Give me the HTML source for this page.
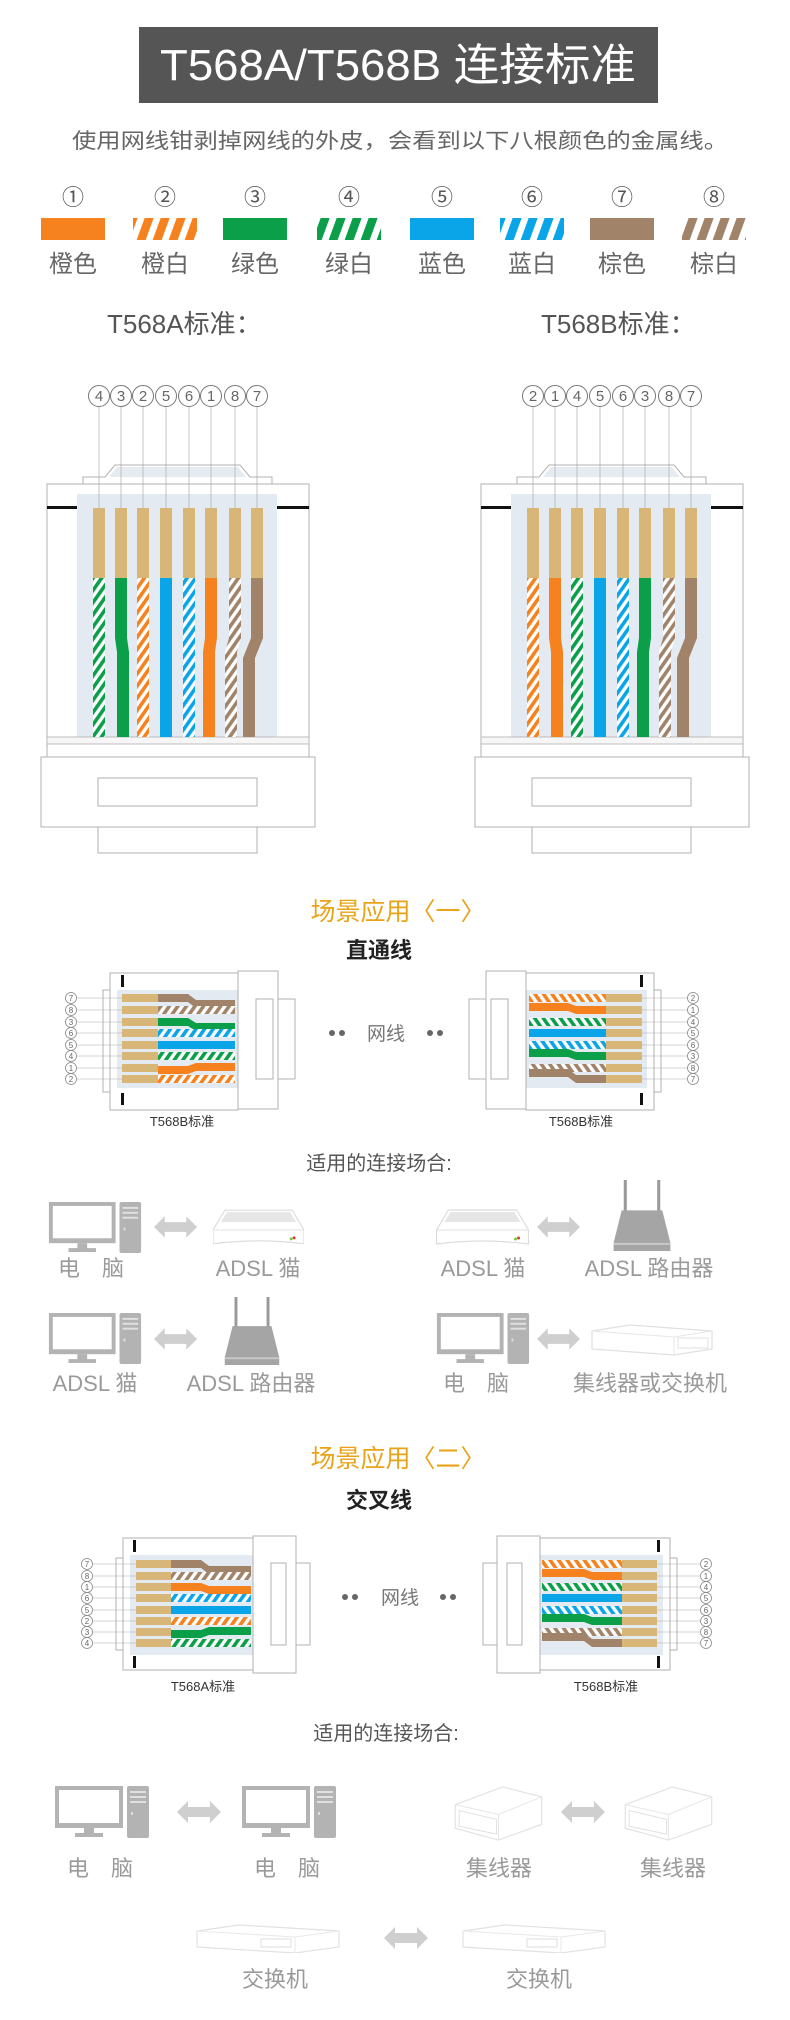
<!DOCTYPE html>
<html><head><meta charset="utf-8"><style>
html,body{margin:0;padding:0;background:#fff;}
svg{display:block;}
text{font-family:"Liberation Sans","Noto Sans CJK SC",sans-serif;}
</style></head><body>
<svg width="790" height="2020" viewBox="0 0 790 2020" xmlns="http://www.w3.org/2000/svg">
<defs>
<pattern id="pO" width="7" height="7" patternUnits="userSpaceOnUse" patternTransform="rotate(35)"><rect width="7" height="7" fill="#fff"/><rect width="3.6" height="7" fill="#f5821f"/></pattern>
<pattern id="pG" width="7" height="7" patternUnits="userSpaceOnUse" patternTransform="rotate(35)"><rect width="7" height="7" fill="#fff"/><rect width="3.6" height="7" fill="#0a9f48"/></pattern>
<pattern id="pB" width="7" height="7" patternUnits="userSpaceOnUse" patternTransform="rotate(35)"><rect width="7" height="7" fill="#fff"/><rect width="3.6" height="7" fill="#0aa5e8"/></pattern>
<pattern id="pN" width="7" height="7" patternUnits="userSpaceOnUse" patternTransform="rotate(35)"><rect width="7" height="7" fill="#fff"/><rect width="3.6" height="7" fill="#a1836a"/></pattern>
<pattern id="sO" width="16" height="22" patternUnits="userSpaceOnUse" patternTransform="skewX(-20)"><rect width="16" height="22" fill="#fff"/><rect width="9" height="22" fill="#f5821f"/></pattern>
<pattern id="sG" width="16" height="22" patternUnits="userSpaceOnUse" patternTransform="skewX(-20)"><rect width="16" height="22" fill="#fff"/><rect width="9" height="22" fill="#0a9f48"/></pattern>
<pattern id="sB" width="16" height="22" patternUnits="userSpaceOnUse" patternTransform="skewX(-20)"><rect width="16" height="22" fill="#fff"/><rect width="9" height="22" fill="#0aa5e8"/></pattern>
<pattern id="sN" width="16" height="22" patternUnits="userSpaceOnUse" patternTransform="skewX(-20)"><rect width="16" height="22" fill="#fff"/><rect width="9" height="22" fill="#a1836a"/></pattern>

<symbol id="pc" viewBox="0 0 94 52">
<rect x="0" y="0" width="68" height="42" fill="#b3b3b3"/><rect x="4" y="4" width="60" height="33" fill="#fff"/>
<rect x="29" y="42" width="10" height="6" fill="#b3b3b3"/><rect x="20" y="47" width="28" height="4" fill="#b3b3b3"/>
<rect x="72" y="0" width="22" height="52" rx="2" fill="#b3b3b3"/><rect x="75" y="5" width="16" height="2" fill="#e0e0e0"/><rect x="75" y="10" width="16" height="2" fill="#e0e0e0"/><rect x="75" y="15" width="16" height="2" fill="#e0e0e0"/><rect x="76" y="26" width="2" height="3" fill="#ddd"/>
</symbol>
<symbol id="arr" viewBox="0 0 44 22">
<polygon points="0,11 11,0 11,6 33,6 33,0 44,11 33,22 33,16 11,16 11,22" fill="#cfcfcf"/>
</symbol>
<symbol id="modem" viewBox="0 0 92 40">
<path d="M12,2 L80,2 L92,22 L92,36 Q46,30 0,36 L0,22 Z" fill="#fff" stroke="#dcdcdc" stroke-width="1.2"/>
<path d="M14,4 L78,4 L84,14 L8,14 Z" fill="#e6e6e6"/>
<line x1="0" y1="22" x2="92" y2="22" stroke="#e0e0e0"/>
<circle cx="82" cy="30" r="1.5" fill="#e33"/><circle cx="79" cy="31" r="1.5" fill="#7c3"/>
</symbol>
<symbol id="router" viewBox="0 0 60 72">
<rect x="12" y="0" width="3" height="32" fill="#999"/><rect x="45" y="0" width="3" height="32" fill="#999"/>
<path d="M10,30 L50,30 L58,62 L58,70 L2,70 L2,62 Z" fill="#a5a5a5"/>
<rect x="2" y="62" width="56" height="2" fill="#c8c8c8"/>
</symbol>
<symbol id="switch" viewBox="0 0 124 34">
<path d="M2,8 L40,2 L122,8 L122,26 L84,32 L2,26 Z" fill="#fff" stroke="#e0e0e0" stroke-width="1.2"/>
<line x1="2" y1="8" x2="84" y2="14" stroke="#e6e6e6"/><line x1="84" y1="14" x2="122" y2="8" stroke="#e6e6e6"/><line x1="84" y1="14" x2="84" y2="32" stroke="#e6e6e6"/>
<rect x="88" y="15" width="30" height="10" fill="none" stroke="#e0e0e0"/>
</symbol>
<symbol id="hub" viewBox="0 0 92 58">
<path d="M2,20 L50,2 L90,12 L90,40 L46,56 L2,44 Z" fill="#fff" stroke="#e2e2e2" stroke-width="1.2"/>
<path d="M2,20 L46,30 L90,12 M46,30 L46,56" fill="none" stroke="#e6e6e6"/>
<path d="M6,26 L44,35 L44,50 L6,42 Z" fill="none" stroke="#e0e0e0"/>
</symbol>
<symbol id="switch2" viewBox="0 0 146 30">
<path d="M2,8 L44,2 L144,8 L144,24 L100,30 L2,24 Z" fill="#fff" stroke="#e2e2e2" stroke-width="1.2"/>
<line x1="2" y1="8" x2="100" y2="14" stroke="#e8e8e8"/><line x1="100" y1="14" x2="144" y2="8" stroke="#e8e8e8"/><line x1="100" y1="14" x2="100" y2="30" stroke="#e8e8e8"/>
<rect x="66" y="16" width="30" height="8" fill="none" stroke="#ddd"/>
</symbol>

<!-- vertical connector -->
<g id="vconn">
<polygon points="83,484 83,477 105,477 115,465 240,465 250,477 272,477 272,484" fill="#fff" stroke="#b0b0b0"/>
<polygon points="117,467 238,467 246,477 109,477" fill="#e6ebf1"/>
<rect x="47" y="484" width="262" height="273" fill="#fff" stroke="#b0b0b0"/>
<rect x="77" y="494" width="200" height="248" fill="#e3eaf2"/>
<rect x="47" y="506" width="30" height="3" fill="#111"/><rect x="277" y="506" width="32" height="3" fill="#111"/>
<rect x="47" y="737" width="262" height="7" fill="#f6f6f6" stroke="#b0b0b0" stroke-width="0.8"/>
<rect x="41" y="757" width="274" height="70" fill="#fff" stroke="#b0b0b0"/>
<rect x="98" y="778" width="159" height="28" fill="#fff" stroke="#b0b0b0"/>
<rect x="98" y="827" width="159" height="26" fill="#fff" stroke="#b0b0b0"/>
<g stroke="#aaa" stroke-width="0.7">
<line x1="99" y1="407" x2="99" y2="508"/><line x1="121" y1="407" x2="121" y2="508"/><line x1="143" y1="407" x2="143" y2="508"/><line x1="166" y1="407" x2="166" y2="508"/><line x1="189" y1="407" x2="189" y2="508"/><line x1="211" y1="407" x2="211" y2="508"/><line x1="235" y1="407" x2="235" y2="508"/><line x1="257" y1="407" x2="257" y2="508"/>
</g>
<g fill="#d8b677">
<rect x="93" y="508" width="12" height="70"/><rect x="115" y="508" width="12" height="70"/><rect x="137" y="508" width="12" height="70"/><rect x="160" y="508" width="12" height="70"/><rect x="183" y="508" width="12" height="70"/><rect x="205" y="508" width="12" height="70"/><rect x="229" y="508" width="12" height="70"/><rect x="251" y="508" width="12" height="70"/>
</g>
</g>
<g id="hbody1">
<rect x="103" y="990" width="7" height="102" fill="#fff" stroke="#b0b0b0"/>
<rect x="110" y="973" width="128" height="137" fill="#fff" stroke="#b0b0b0"/>
<rect x="117" y="990" width="121" height="98" fill="#e3eaf2"/>
<rect x="121" y="975" width="3" height="12" fill="#111"/><rect x="121" y="1093" width="3" height="12" fill="#111"/>
<rect x="278" y="999" width="17" height="80" fill="#fff" stroke="#b0b0b0"/>
<rect x="238" y="971" width="40" height="138" fill="#fff" stroke="#b0b0b0"/>
<rect x="256" y="999" width="17" height="80" fill="#fff" stroke="#b0b0b0"/>
<g stroke="#aaa" stroke-width="0.6"><line x1="77" y1="998" x2="122" y2="998"/><line x1="77" y1="1010" x2="122" y2="1010"/><line x1="77" y1="1022" x2="122" y2="1022"/><line x1="77" y1="1033" x2="122" y2="1033"/><line x1="77" y1="1045" x2="122" y2="1045"/><line x1="77" y1="1056" x2="122" y2="1056"/><line x1="77" y1="1068" x2="122" y2="1068"/><line x1="77" y1="1079" x2="122" y2="1079"/></g>
<g fill="#d8b677"><rect x="122" y="994" width="36" height="8"/><rect x="122" y="1006" width="36" height="8"/><rect x="122" y="1018" width="36" height="8"/><rect x="122" y="1029" width="36" height="8"/><rect x="122" y="1041" width="36" height="8"/><rect x="122" y="1052" width="36" height="8"/><rect x="122" y="1064" width="36" height="8"/><rect x="122" y="1075" width="36" height="8"/></g>
</g>
<g id="hbody2">
<rect x="116" y="1558" width="7" height="92" fill="#fff" stroke="#b0b0b0"/>
<rect x="123" y="1538" width="130" height="132" fill="#fff" stroke="#b0b0b0"/>
<rect x="130" y="1555" width="123" height="100" fill="#e3eaf2"/>
<rect x="133" y="1540" width="3" height="12" fill="#111"/><rect x="133" y="1656" width="3" height="12" fill="#111"/>
<rect x="296" y="1563" width="14" height="82" fill="#fff" stroke="#b0b0b0"/>
<rect x="253" y="1536" width="43" height="137" fill="#fff" stroke="#b0b0b0"/>
<rect x="271" y="1563" width="15" height="82" fill="#fff" stroke="#b0b0b0"/>
<g stroke="#aaa" stroke-width="0.6"><line x1="93" y1="1564" x2="136" y2="1564"/><line x1="93" y1="1576" x2="136" y2="1576"/><line x1="93" y1="1587" x2="136" y2="1587"/><line x1="93" y1="1598" x2="136" y2="1598"/><line x1="93" y1="1610" x2="136" y2="1610"/><line x1="93" y1="1621" x2="136" y2="1621"/><line x1="93" y1="1632" x2="136" y2="1632"/><line x1="93" y1="1643" x2="136" y2="1643"/></g>
<g fill="#d8b677"><rect x="136" y="1560" width="35" height="8"/><rect x="136" y="1572" width="35" height="8"/><rect x="136" y="1583" width="35" height="8"/><rect x="136" y="1594" width="35" height="8"/><rect x="136" y="1606" width="35" height="8"/><rect x="136" y="1617" width="35" height="8"/><rect x="136" y="1628" width="35" height="8"/><rect x="136" y="1639" width="35" height="8"/></g>
</g>
</defs>

<!-- Title -->
<rect x="139" y="27" width="519" height="76" fill="#555"/>
<text x="398" y="80" font-size="44" fill="#fff" text-anchor="middle" textLength="476" lengthAdjust="spacingAndGlyphs">T568A/T568B 连接标准</text>
<text x="400" y="148" font-size="21" fill="#666" text-anchor="middle" textLength="656" lengthAdjust="spacingAndGlyphs">使用网线钳剥掉网线的外皮，会看到以下八根颜色的金属线。</text>

<!-- legend -->
<g font-size="22" fill="#555" text-anchor="middle">
<text x="73" y="205">①</text><text x="165" y="205">②</text><text x="255" y="205">③</text><text x="349" y="205">④</text><text x="442" y="205">⑤</text><text x="532" y="205">⑥</text><text x="622" y="205">⑦</text><text x="714" y="205">⑧</text>
</g>
<rect x="41" y="218" width="64" height="22" fill="#f5821f"/>
<rect x="133" y="218" width="64" height="22" fill="url(#sO)"/>
<rect x="223" y="218" width="64" height="22" fill="#0a9f48"/>
<rect x="317" y="218" width="64" height="22" fill="url(#sG)"/>
<rect x="410" y="218" width="64" height="22" fill="#0aa5e8"/>
<rect x="500" y="218" width="64" height="22" fill="url(#sB)"/>
<rect x="590" y="218" width="64" height="22" fill="#a1836a"/>
<rect x="682" y="218" width="64" height="22" fill="url(#sN)"/>
<g font-size="24" fill="#666" text-anchor="middle">
<text x="73" y="272">橙色</text><text x="165" y="272">橙白</text><text x="255" y="272">绿色</text><text x="349" y="272">绿白</text><text x="442" y="272">蓝色</text><text x="532" y="272">蓝白</text><text x="622" y="272">棕色</text><text x="714" y="272">棕白</text>
</g>

<text x="107" y="333" font-size="26" fill="#555">T568A标准：</text>
<text x="541" y="333" font-size="26" fill="#555">T568B标准：</text>

<!-- Connector A -->
<use href="#vconn"/>
<rect x="93" y="578" width="12" height="159" fill="url(#pG)"/>
<path d="M115,578 h12 v60 l2,14 v85 h-12 v-85 l-2,-14z" fill="#0a9f48"/>
<rect x="137" y="578" width="12" height="159" fill="url(#pO)"/>
<rect x="160" y="578" width="12" height="159" fill="#0aa5e8"/>
<rect x="183" y="578" width="12" height="159" fill="url(#pB)"/>
<path d="M205,578 h12 v60 l-2,14 v85 h-12 v-85 l2,-14z" fill="#f5821f"/>
<path d="M229,578 h12 v60 l-4,14 v85 h-12 v-85 l4,-14z" fill="url(#pN)"/>
<path d="M251,578 h12 v60 l-8,20 v79 h-12 v-79 l8,-20z" fill="#a1836a"/>
<g fill="#fff" stroke="#777" stroke-width="1"><circle cx="99" cy="396" r="10.5"/><circle cx="121" cy="396" r="10.5"/><circle cx="143" cy="396" r="10.5"/><circle cx="166" cy="396" r="10.5"/><circle cx="189" cy="396" r="10.5"/><circle cx="211" cy="396" r="10.5"/><circle cx="235" cy="396" r="10.5"/><circle cx="257" cy="396" r="10.5"/></g>
<g font-size="15" fill="#666" text-anchor="middle"><text x="99" y="401">4</text><text x="121" y="401">3</text><text x="143" y="401">2</text><text x="166" y="401">5</text><text x="189" y="401">6</text><text x="211" y="401">1</text><text x="235" y="401">8</text><text x="257" y="401">7</text></g>

<!-- Connector B -->
<g transform="translate(434,0)">
<use href="#vconn"/>
<rect x="93" y="578" width="12" height="159" fill="url(#pO)"/>
<path d="M115,578 h12 v60 l2,14 v85 h-12 v-85 l-2,-14z" fill="#f5821f"/>
<rect x="137" y="578" width="12" height="159" fill="url(#pG)"/>
<rect x="160" y="578" width="12" height="159" fill="#0aa5e8"/>
<rect x="183" y="578" width="12" height="159" fill="url(#pB)"/>
<path d="M205,578 h12 v60 l-2,14 v85 h-12 v-85 l2,-14z" fill="#0a9f48"/>
<path d="M229,578 h12 v60 l-4,14 v85 h-12 v-85 l4,-14z" fill="url(#pN)"/>
<path d="M251,578 h12 v60 l-8,20 v79 h-12 v-79 l8,-20z" fill="#a1836a"/>
<g fill="#fff" stroke="#777" stroke-width="1"><circle cx="99" cy="396" r="10.5"/><circle cx="121" cy="396" r="10.5"/><circle cx="143" cy="396" r="10.5"/><circle cx="166" cy="396" r="10.5"/><circle cx="189" cy="396" r="10.5"/><circle cx="211" cy="396" r="10.5"/><circle cx="235" cy="396" r="10.5"/><circle cx="257" cy="396" r="10.5"/></g>
<g font-size="15" fill="#666" text-anchor="middle"><text x="99" y="401">2</text><text x="121" y="401">1</text><text x="143" y="401">4</text><text x="166" y="401">5</text><text x="189" y="401">6</text><text x="211" y="401">3</text><text x="235" y="401">8</text><text x="257" y="401">7</text></g>
</g>

<!-- Scene 1 -->
<text x="398" y="920" font-size="25" fill="#e8a317" text-anchor="middle">场景应用〈一〉</text>
<text x="379" y="958" font-size="22" fill="#222" font-weight="bold" text-anchor="middle">直通线</text>

<use href="#hbody1"/>
<g>
<path d="M158,994 h30 l8,6 h39 v8 h-39 l-8,-6 h-30z" fill="#a1836a"/>
<rect x="158" y="1006" width="77" height="8" fill="url(#pN)"/>
<path d="M158,1018 h30 l8,5 h39 v8 h-39 l-8,-5 h-30z" fill="#0a9f48"/>
<rect x="158" y="1029" width="77" height="8" fill="url(#pB)"/>
<rect x="158" y="1041" width="77" height="8" fill="#0aa5e8"/>
<rect x="158" y="1052" width="77" height="8" fill="url(#pG)"/>
<path d="M158,1066 h30 l8,-3 h39 v8 h-39 l-8,3 h-30z" fill="#f5821f"/>
<rect x="158" y="1075" width="77" height="8" fill="url(#pO)"/>
</g>
<g fill="#fff" stroke="#888" stroke-width="0.8"><circle cx="71" cy="998" r="5.5"/><circle cx="71" cy="1010" r="5.5"/><circle cx="71" cy="1022" r="5.5"/><circle cx="71" cy="1033" r="5.5"/><circle cx="71" cy="1045" r="5.5"/><circle cx="71" cy="1056" r="5.5"/><circle cx="71" cy="1068" r="5.5"/><circle cx="71" cy="1079" r="5.5"/></g>
<g font-size="8" fill="#666" text-anchor="middle"><text x="71" y="1001">7</text><text x="71" y="1013">8</text><text x="71" y="1025">3</text><text x="71" y="1036">6</text><text x="71" y="1048">5</text><text x="71" y="1059">4</text><text x="71" y="1071">1</text><text x="71" y="1082">2</text></g>

<g transform="translate(764,0) scale(-1,1)">
<use href="#hbody1"/>
<rect x="158" y="994" width="77" height="8" fill="url(#pO)"/>
<path d="M158,1006 h30 l8,-3 h39 v8 h-39 l-8,3 h-30z" fill="#f5821f"/>
<rect x="158" y="1018" width="77" height="8" fill="url(#pG)"/>
<rect x="158" y="1029" width="77" height="8" fill="#0aa5e8"/>
<rect x="158" y="1041" width="77" height="8" fill="url(#pB)"/>
<path d="M158,1052 h30 l8,-3 h39 v8 h-39 l-8,3 h-30z" fill="#0a9f48"/>
<rect x="158" y="1064" width="77" height="8" fill="url(#pN)"/>
<path d="M158,1075 h30 l8,-6 h39 v8 h-39 l-8,6 h-30z" fill="#a1836a"/>
</g>
<g fill="#fff" stroke="#888" stroke-width="0.8"><circle cx="693" cy="998" r="5.5"/><circle cx="693" cy="1010" r="5.5"/><circle cx="693" cy="1022" r="5.5"/><circle cx="693" cy="1033" r="5.5"/><circle cx="693" cy="1045" r="5.5"/><circle cx="693" cy="1056" r="5.5"/><circle cx="693" cy="1068" r="5.5"/><circle cx="693" cy="1079" r="5.5"/></g>
<g font-size="8" fill="#666" text-anchor="middle"><text x="693" y="1001">2</text><text x="693" y="1013">1</text><text x="693" y="1025">4</text><text x="693" y="1036">5</text><text x="693" y="1048">6</text><text x="693" y="1059">3</text><text x="693" y="1071">8</text><text x="693" y="1082">7</text></g>

<text x="182" y="1126" font-size="13" fill="#333" text-anchor="middle">T568B标准</text>
<text x="581" y="1126" font-size="13" fill="#333" text-anchor="middle">T568B标准</text>
<g fill="#666"><circle cx="332" cy="1033" r="3"/><circle cx="342" cy="1033" r="3"/><circle cx="430" cy="1033" r="3"/><circle cx="440" cy="1033" r="3"/></g>
<text x="386" y="1040" font-size="19" fill="#777" text-anchor="middle">网线</text>

<!-- applicable 1 -->
<text x="379" y="1170" font-size="20" fill="#555" text-anchor="middle">适用的连接场合:</text>
<use href="#pc" x="48" y="1202" width="94" height="51"/>
<use href="#arr" x="154" y="1216" width="43" height="22"/>
<use href="#modem" x="213" y="1208" width="91" height="40"/>
<use href="#modem" x="436" y="1208" width="93" height="40"/>
<use href="#arr" x="537" y="1216" width="43" height="22"/>
<use href="#router" x="610" y="1180" width="64" height="73"/>
<g font-size="22" fill="#9a9a9a" text-anchor="middle">
<text x="91" y="1276">电　脑</text><text x="258" y="1276">ADSL 猫</text>
<text x="483" y="1276">ADSL 猫</text><text x="649" y="1276">ADSL 路由器</text>
</g>
<use href="#pc" x="48" y="1313" width="94" height="51"/>
<use href="#arr" x="154" y="1328" width="43" height="22"/>
<use href="#router" x="218" y="1297" width="68" height="70"/>
<use href="#pc" x="436" y="1313" width="94" height="51"/>
<use href="#arr" x="537" y="1328" width="43" height="22"/>
<use href="#switch" x="590" y="1323" width="124" height="34"/>
<g font-size="22" fill="#9a9a9a" text-anchor="middle">
<text x="95" y="1391">ADSL 猫</text><text x="251" y="1391">ADSL 路由器</text>
<text x="476" y="1391">电　脑</text><text x="650" y="1391">集线器或交换机</text>
</g>

<!-- Scene 2 -->
<text x="398" y="1467" font-size="25" fill="#e8a317" text-anchor="middle">场景应用〈二〉</text>
<text x="379" y="1508" font-size="22" fill="#222" font-weight="bold" text-anchor="middle">交叉线</text>

<use href="#hbody2"/>
<path d="M171,1560 h30 l8,6 h42 v8 h-42 l-8,-6 h-30z" fill="#a1836a"/>
<rect x="171" y="1572" width="80" height="8" fill="url(#pN)"/>
<path d="M171,1583 h30 l8,3 h42 v8 h-42 l-8,-3 h-30z" fill="#f5821f"/>
<rect x="171" y="1594" width="80" height="8" fill="url(#pB)"/>
<rect x="171" y="1606" width="80" height="8" fill="#0aa5e8"/>
<rect x="171" y="1617" width="80" height="8" fill="url(#pO)"/>
<path d="M171,1630 h30 l8,-3 h42 v8 h-42 l-8,3 h-30z" fill="#0a9f48"/>
<rect x="171" y="1639" width="80" height="8" fill="url(#pG)"/>
<g fill="#fff" stroke="#888" stroke-width="0.8"><circle cx="87" cy="1564" r="5.5"/><circle cx="87" cy="1576" r="5.5"/><circle cx="87" cy="1587" r="5.5"/><circle cx="87" cy="1598" r="5.5"/><circle cx="87" cy="1610" r="5.5"/><circle cx="87" cy="1621" r="5.5"/><circle cx="87" cy="1632" r="5.5"/><circle cx="87" cy="1643" r="5.5"/></g>
<g font-size="8" fill="#666" text-anchor="middle"><text x="87" y="1567">7</text><text x="87" y="1579">8</text><text x="87" y="1590">1</text><text x="87" y="1601">6</text><text x="87" y="1613">5</text><text x="87" y="1624">2</text><text x="87" y="1635">3</text><text x="87" y="1646">4</text></g>

<g transform="translate(793,0) scale(-1,1)">
<use href="#hbody2"/>
<rect x="171" y="1560" width="80" height="8" fill="url(#pO)"/>
<path d="M171,1572 h30 l8,-3 h42 v8 h-42 l-8,3 h-30z" fill="#f5821f"/>
<rect x="171" y="1583" width="80" height="8" fill="url(#pG)"/>
<rect x="171" y="1594" width="80" height="8" fill="#0aa5e8"/>
<rect x="171" y="1606" width="80" height="8" fill="url(#pB)"/>
<path d="M171,1617 h30 l8,-3 h42 v8 h-42 l-8,3 h-30z" fill="#0a9f48"/>
<rect x="171" y="1628" width="80" height="8" fill="url(#pN)"/>
<path d="M171,1639 h30 l8,-6 h42 v8 h-42 l-8,6 h-30z" fill="#a1836a"/>
</g>
<g fill="#fff" stroke="#888" stroke-width="0.8"><circle cx="706" cy="1564" r="5.5"/><circle cx="706" cy="1576" r="5.5"/><circle cx="706" cy="1587" r="5.5"/><circle cx="706" cy="1598" r="5.5"/><circle cx="706" cy="1610" r="5.5"/><circle cx="706" cy="1621" r="5.5"/><circle cx="706" cy="1632" r="5.5"/><circle cx="706" cy="1643" r="5.5"/></g>
<g font-size="8" fill="#666" text-anchor="middle"><text x="706" y="1567">2</text><text x="706" y="1579">1</text><text x="706" y="1590">4</text><text x="706" y="1601">5</text><text x="706" y="1613">6</text><text x="706" y="1624">3</text><text x="706" y="1635">8</text><text x="706" y="1646">7</text></g>

<text x="203" y="1691" font-size="13" fill="#333" text-anchor="middle">T568A标准</text>
<text x="606" y="1691" font-size="13" fill="#333" text-anchor="middle">T568B标准</text>
<g fill="#666"><circle cx="345" cy="1597" r="3"/><circle cx="355" cy="1597" r="3"/><circle cx="443" cy="1597" r="3"/><circle cx="453" cy="1597" r="3"/></g>
<text x="400" y="1604" font-size="19" fill="#777" text-anchor="middle">网线</text>

<!-- applicable 2 -->
<text x="386" y="1740" font-size="20" fill="#555" text-anchor="middle">适用的连接场合:</text>
<use href="#pc" x="55" y="1786" width="94" height="52"/>
<use href="#arr" x="177" y="1801" width="44" height="22"/>
<use href="#pc" x="242" y="1786" width="94" height="52"/>
<use href="#hub" x="453" y="1785" width="91" height="57"/>
<use href="#arr" x="561" y="1801" width="44" height="22"/>
<use href="#hub" x="623" y="1785" width="91" height="57"/>
<g font-size="22" fill="#9a9a9a" text-anchor="middle">
<text x="100" y="1876">电　脑</text><text x="287" y="1876">电　脑</text>
<text x="499" y="1876">集线器</text><text x="673" y="1876">集线器</text>
</g>
<use href="#switch2" x="195" y="1923" width="146" height="30"/>
<use href="#arr" x="384" y="1927" width="44" height="22"/>
<use href="#switch2" x="461" y="1923" width="146" height="30"/>
<g font-size="22" fill="#9a9a9a" text-anchor="middle">
<text x="275" y="1987">交换机</text><text x="539" y="1987">交换机</text>
</g>
</svg>
</body></html>
